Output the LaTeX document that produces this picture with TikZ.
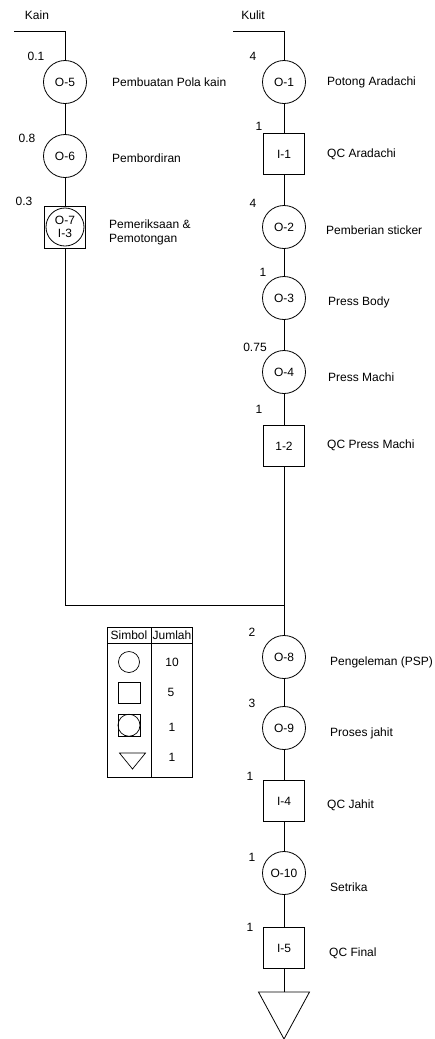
\documentclass[tikz,border=0pt]{standalone}
\usepackage{fontspec}
\setmainfont{Liberation Sans}
\begin{document}
\begin{tikzpicture}[x=1pt,y=-1pt,
  every node/.style={font=\fontsize{12}{14}\selectfont, text=black},
  op/.style={circle, draw, line width=0.8pt, minimum size=43pt, inner sep=0pt},
  insp/.style={rectangle, draw, line width=0.8pt, minimum size=41pt, inner sep=0pt},
  lbl/.style={anchor=west, inner sep=0pt},
  num/.style={inner sep=0pt},
  conn/.style={line width=0.8pt}]
\useasboundingbox (0,0) rectangle (435,1039);

% left column
\node[op] (O5) at (65,82) {O-5};
\node[op] (O6) at (65,156) {O-6};
\node[insp, minimum height=42pt] (O7) at (65,227) {};
\node[circle, draw, line width=0.8pt, minimum size=38pt, inner sep=0pt, align=center, font=\fontsize{12}{13}\selectfont] (O7c) at (O7.center) {O-7\\I-3};

% right column
\node[op] (O1) at (284,82) {O-1};
\node[insp] (I1) at (284,154) {I-1};
\node[op] (O2) at (284,227) {O-2};
\node[op] (O3) at (284,298) {O-3};
\node[op] (O4) at (284,372) {O-4};
\node[insp] (I2) at (284,446) {1-2};
\node[op] (O8) at (284,657) {O-8};
\node[op] (O9) at (284,728) {O-9};
\node[insp] (I4) at (284,801) {I-4};
\node[op] (O10) at (284,873) {O-10};
\node[insp] (I5) at (284,948) {I-5};

% storage triangle
\coordinate (Ttop) at (284,992);
\draw[conn] (258.5,992) -- (309.5,992) -- (284,1039) -- cycle;

% start lines
\coordinate (Kstart) at (14,31);
\coordinate (Lstart) at (233,31);
\coordinate (J) at (284,605);
\draw[conn] (Kstart) -| (O5.north);
\draw[conn] (Lstart) -| (O1.north);

% connectors
\draw[conn] (O5) -- (O6);
\draw[conn] (O6) -- (O7);
\draw[conn] (O7.south) |- (J);
\draw[conn] (O1) -- (I1);
\draw[conn] (I1) -- (O2);
\draw[conn] (O2) -- (O3);
\draw[conn] (O3) -- (O4);
\draw[conn] (O4) -- (I2);
\draw[conn] (I2.south) -- (J);
\draw[conn] (J) -- (O8.north);
\draw[conn] (O8) -- (O9);
\draw[conn] (O9) -- (I4);
\draw[conn] (I4) -- (O10);
\draw[conn] (O10) -- (I5);
\draw[conn] (I5.south) -- (Ttop);

% headings
\node[num] (kain) at (37,15) {Kain};
\node[num] (kulit) at (253,15) {Kulit};

% times
\node[num] (t5) at (36,56) {0.1};
\node[num] (t6) at (27,138) {0.8};
\node[num] (t7) at (24,201) {0.3};
\node[num] (t1) at (253,56) {4};
\node[num] (ti1) at (259,126) {1};
\node[num] (t2) at (253,203) {4};
\node[num] (t3) at (263,272) {1};
\node[num] (t4) at (255,347) {0.75};
\node[num] (ti2) at (259,409) {1};
\node[num] (t8) at (252,632) {2};
\node[num] (t9) at (252,703) {3};
\node[num] (ti4) at (250,776) {1};
\node[num] (t10) at (252,857) {1};
\node[num] (ti5) at (250,927) {1};

% descriptions
\node[lbl] (d5) at (112,82) {Pembuatan Pola kain};
\node[lbl] (d6) at (112,158) {Pembordiran};
\node[lbl, align=left] (d7) at (109,232) {Pemeriksaan \&\\Pemotongan};
\node[lbl] (d1) at (327,82) {Potong Aradachi};
\node[lbl] (di1) at (327,154) {QC Aradachi};
\node[lbl] (d2) at (326,230) {Pemberian sticker};
\node[lbl] (d3) at (328,302) {Press Body};
\node[lbl] (d4) at (328,377) {Press Machi};
\node[lbl] (di2) at (327,445) {QC Press Machi};
\node[lbl] (d8) at (330,662) {Pengeleman (PSP)};
\node[lbl] (d9) at (330,733) {Proses jahit};
\node[lbl] (di4) at (327,805) {QC Jahit};
\node[lbl] (d10) at (330,887) {Setrika};
\node[lbl] (di5) at (329,953) {QC Final};

% summary table
\draw[line width=0.8pt] (107,627) rectangle (192,777);
\draw[line width=0.8pt] (151,627) -- (151,777);
\draw[line width=0.8pt] (107,643) -- (192,643);
\node[num] (hs) at (129,635.5) {Simbol};
\node[num] (hj) at (172,635.5) {Jumlah};
\draw[line width=0.7pt] (129,662) circle (10.5);
\node[num] (n1) at (172,662) {10};
\draw[line width=0.7pt] (118,682) rectangle (140,703);
\node[num] (n2) at (171,692) {5};
\draw[line width=0.7pt] (118,714.5) rectangle (140,736);
\draw[line width=0.7pt] (129,725.25) circle (11);
\node[num] (n3) at (172,727) {1};
\draw[line width=0.7pt] (119.5,753) -- (145.5,753) -- (132.5,769) -- cycle;
\node[num] (n4) at (172,757) {1};
\end{tikzpicture}
\end{document}
